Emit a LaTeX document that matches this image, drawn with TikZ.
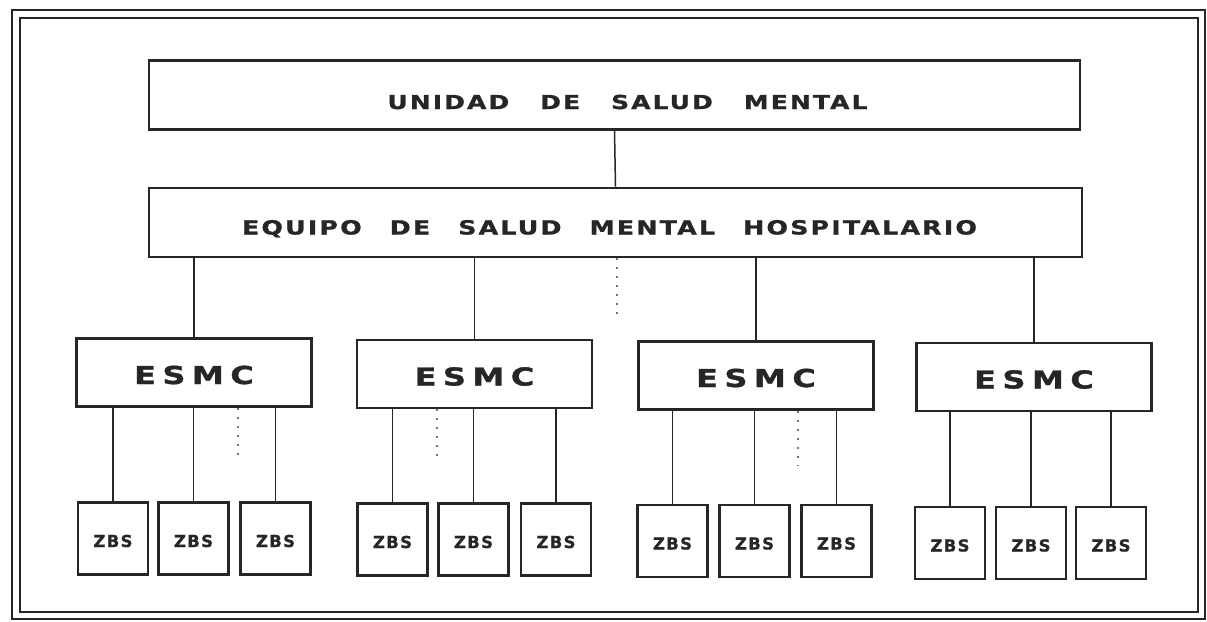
\documentclass[tikz,border=0pt]{standalone}
\usepackage{fontspec}
\newfontfamily\toplbl[FakeStretch=1.3,FakeBold=1.2,LetterSpace=11]{DejaVu Sans Bold}
\newfontfamily\hosplbl[FakeStretch=1.3,FakeBold=1.2,LetterSpace=11]{DejaVu Sans Bold}
\newfontfamily\esmclbl[FakeStretch=1.3,FakeBold=1.2,LetterSpace=26]{DejaVu Sans Bold}
\newfontfamily\zbslbl[FakeBold=0.8,LetterSpace=8]{DejaVu Sans Bold}
\newcommand{\tgap}{\hspace*{31pt}}
\newcommand{\hgap}{\hspace*{28pt}}
\begin{document}
\begin{tikzpicture}[x=1pt,y=-1pt,
  box/.style={draw=black!85,line width=2.6pt,rectangle,inner sep=0pt,anchor=center,text=black!85},
  bigbox/.style={box,minimum height=69pt},
  esmcbox/.style={box,minimum width=235pt,minimum height=68pt,text height=23pt,text depth=0pt,font=\esmclbl\fontsize{24.7}{27}\selectfont},
  zbsbox/.style={box,minimum width=70pt,minimum height=72pt,text height=17pt,text depth=0pt,font=\zbslbl\fontsize{16.5}{18}\selectfont},
  link/.style={draw=black!85,line width=1.5pt},
  dots/.style={draw=black!55,line width=1.4pt,dash pattern=on 2pt off 7pt},
  frame/.style={draw=black!85}]
\useasboundingbox (0,0) rectangle (1207,621);
\fill[white] (0,0) rectangle (1207,621);
\draw[frame,line width=1.3pt] (12,10) rectangle (1205,619);
\draw[frame,line width=2.2pt] (20,18) rectangle (1198,612);

\node[bigbox,minimum width=931pt,text height=28pt,text depth=0pt,font=\toplbl\fontsize{19.2}{22}\selectfont] (u) at (614.5,95) {\hspace*{26pt}UNIDAD\tgap DE\tgap SALUD\tgap MENTAL};
\node[bigbox,minimum width=933pt,text height=24pt,text depth=0pt,font=\hosplbl\fontsize{19.5}{22}\selectfont] (h) at (615.5,222.5) {EQUIPO\hgap DE\hgap SALUD\hgap MENTAL\hgap HOSPITALARIO\hspace*{12pt}};

\node[esmcbox] (e1) at (194,372.5) {ESMC};
\node[esmcbox] (e2) at (474.5,374) {ESMC};
\node[esmcbox] (e3) at (756,375.5) {ESMC};
\node[esmcbox] (e4) at (1034,377) {ESMC};

\node[zbsbox] (z11) at (113,538.5) {ZBS};
\node[zbsbox] (z12) at (193.5,538.5) {ZBS};
\node[zbsbox] (z13) at (275.5,538.5) {ZBS};
\node[zbsbox] (z21) at (392.5,539.5) {ZBS};
\node[zbsbox] (z22) at (473.5,539.5) {ZBS};
\node[zbsbox] (z23) at (556,539.5) {ZBS};
\node[zbsbox] (z31) at (672.5,541) {ZBS};
\node[zbsbox] (z32) at (754.5,541) {ZBS};
\node[zbsbox] (z33) at (836.5,541) {ZBS};
\node[zbsbox] (z41) at (950,543) {ZBS};
\node[zbsbox] (z42) at (1031,543) {ZBS};
\node[zbsbox] (z43) at (1111,543) {ZBS};

\draw[link] (u.south) -- (h.north);
\foreach \e in {e1,e2,e3,e4}{
  \draw[link] (\e.north) -- (\e.north |- h.south);
}
\foreach \e/\z in {e1/z11,e1/z12,e1/z13,e2/z21,e2/z22,e2/z23,e3/z31,e3/z32,e3/z33,e4/z41,e4/z42,e4/z43}{
  \draw[link] (\z.north) -- (\z.north |- \e.south);
}

\coordinate (d0) at (617,318);
\coordinate (d1) at (238,455);
\coordinate (d2) at (437,460);
\coordinate (d3) at (798,465);
\draw[dots] (d0 |- h.south) -- (d0);
\draw[dots] (d1 |- e1.south) -- (d1);
\draw[dots] (d2 |- e2.south) -- (d2);
\draw[dots] (d3 |- e3.south) -- (d3);
\end{tikzpicture}
\end{document}
